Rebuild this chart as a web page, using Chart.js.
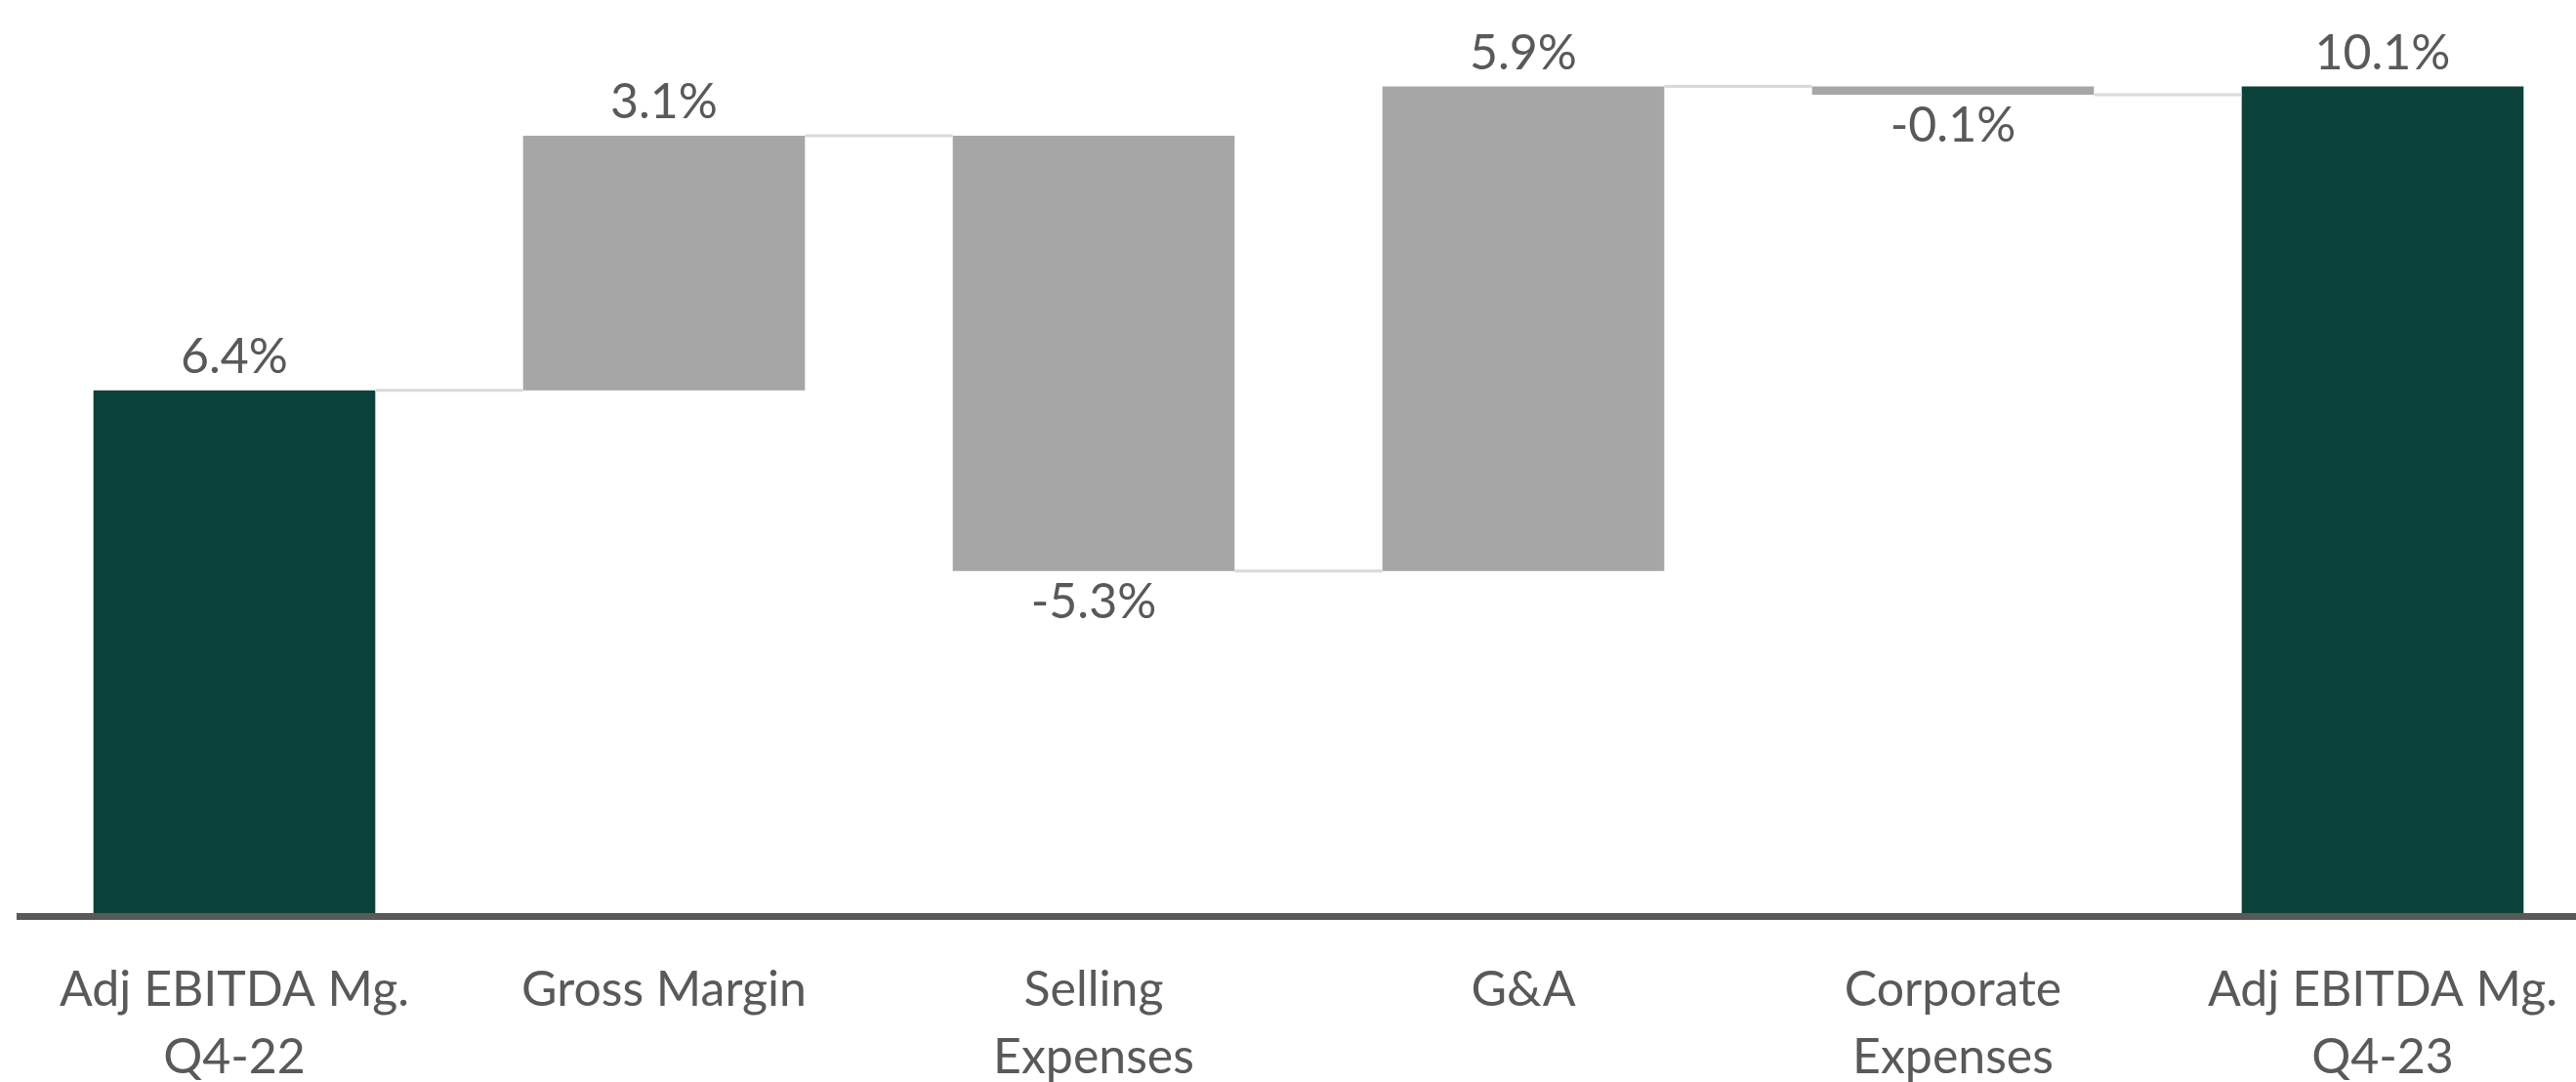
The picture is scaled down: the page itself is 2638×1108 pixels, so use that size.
<!DOCTYPE html>
<html>
<head>
<meta charset="utf-8">
<script src="https://cdn.jsdelivr.net/npm/chart.js@4.4.1/dist/chart.umd.min.js"></script>
<style>
  html, body { margin: 0; padding: 0; background: #fff; overflow: hidden; }
  canvas { display: block; }
</style>
</head>
<body>
<canvas id="bridge" width="2660" height="1108"></canvas>
<script>
const categories = [
    ['Adj EBITDA Mg.', 'Q4-22'],
    'Gross Margin',
    ['Selling', 'Expenses'],
    'G&A',
    ['Corporate', 'Expenses'],
    ['Adj EBITDA Mg.', 'Q4-23']
];
const changes = [6.4, 3.1, -5.3, 5.9, -0.1, 10.1];
const isTotal = [true, false, false, false, false, true];

const totalColor = '#0b4239';
const stepColor = '#a6a6a6';
const textColor = '#595959';

// floating [start, end] ranges for the waterfall
let running = 0;
const ranges = changes.map((v, i) => {
    if (isTotal[i]) {
        running = v;
        return [0, v];
    }
    const start = running;
    running = +(running + v).toFixed(4);
    return [start, running];
});

const bridgePlugin = {
    id: 'bridge',
    afterDatasetsDraw(chart) {
        const ctx = chart.ctx;
        const y = chart.scales.y;
        const bars = chart.getDatasetMeta(0).data;

        // connector lines between neighbouring bars
        ctx.save();
        ctx.strokeStyle = '#d9d9d9';
        ctx.lineWidth = 3;
        for (let i = 0; i < bars.length - 1; i++) {
            const a = bars[i], b = bars[i + 1];
            const level = y.getPixelForValue(ranges[i][1]);
            ctx.beginPath();
            ctx.moveTo(a.x + a.width / 2, level);
            ctx.lineTo(b.x - b.width / 2, level);
            ctx.stroke();
        }
        ctx.restore();

        // value labels
        ctx.save();
        ctx.fillStyle = textColor;
        ctx.font = '50px Lato';
        ctx.textAlign = 'center';
        ctx.textBaseline = 'alphabetic';
        bars.forEach((bar, i) => {
            const v = changes[i];
            const text = v.toFixed(1) + '%';
            const top = y.getPixelForValue(Math.max(...ranges[i]));
            const bottom = y.getPixelForValue(Math.min(...ranges[i]));
            if (v >= 0) {
                ctx.fillText(text, bar.x, top - 18);
            } else {
                ctx.fillText(text, bar.x, bottom + 48);
            }
        });
        ctx.restore();
    }
};

new Chart(document.getElementById('bridge'), {
    type: 'bar',
    data: {
        labels: categories,
        datasets: [{
            data: ranges,
            backgroundColor: isTotal.map(t => t ? totalColor : stepColor),
            borderWidth: 0,
            barPercentage: 0.656,
            categoryPercentage: 1
        }]
    },
    options: {
        responsive: false,
        devicePixelRatio: 1,
        animation: false,
        layout: { padding: { left: 20, right: 0, top: 0, bottom: 0 } },
        plugins: {
            legend: { display: false },
            tooltip: { enabled: false }
        },
        scales: {
            x: {
                grid: { display: false, drawTicks: false },
                border: { display: true, color: '#595959', width: 7, z: 1 },
                ticks: {
                    color: textColor,
                    padding: 41,
                    maxRotation: 0,
                    autoSkip: false,
                    font: { family: 'Lato', size: 50, lineHeight: 1.38 }
                },
                afterFit(scale) { scale.height = 170; }
            },
            y: {
                display: false,
                min: 0,
                max: 11.153
            }
        }
    },
    plugins: [bridgePlugin]
});
</script>
</body>
</html>
